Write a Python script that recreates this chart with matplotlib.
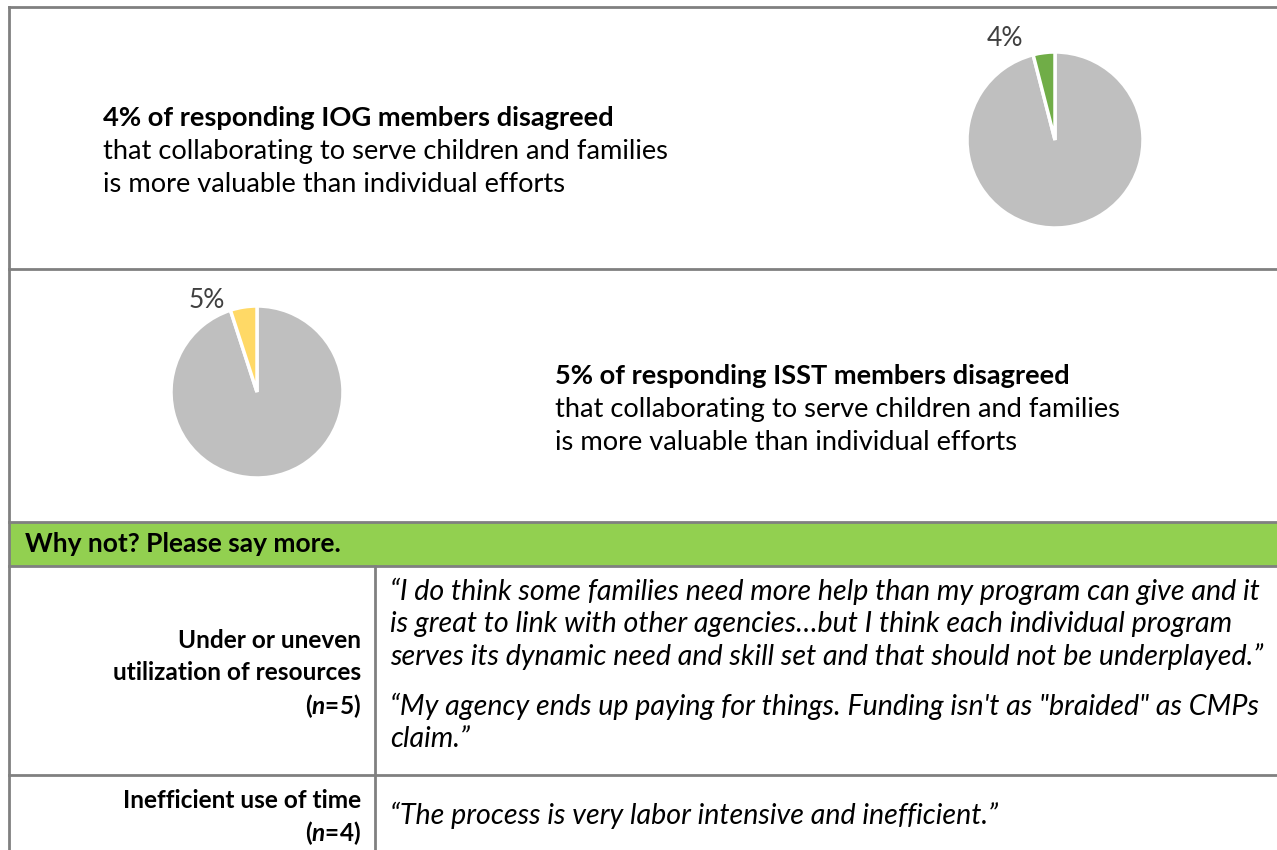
import matplotlib.pyplot as plt
from matplotlib.patches import Rectangle

# ==========================
# Data
# ==========================

iog_share = [96, 4]
isst_share = [95, 5]
iog_label = "4%"
isst_label = "5%"

iog_text = ["4% of responding IOG members disagreed",
            "that collaborating to serve children and families",
            "is more valuable than individual efforts"]
isst_text = ["5% of responding ISST members disagreed",
             "that collaborating to serve children and families",
             "is more valuable than individual efforts"]

header = "Why not? Please say more."

themes = [["Under or uneven", "utilization of resources", "($\\mathbfit{n}$=5)"],
          ["Inefficient use of time", "($\\mathbfit{n}$=4)"]]
quotes = [["\u201cI do think some families need more help than my program can give and it",
           "is great to link with other agencies\u2026but I think each individual program",
           "serves its dynamic need and skill set and that should not be underplayed.\u201d",
           None,
           "\u201cMy agency ends up paying for things. Funding isn't as \"braided\" as CMPs",
           "claim.\u201d"],
          ["\u201cThe process is very labor intensive and inefficient.\u201d"]]

# ==========================
# Layout
# ==========================

W, H = 1277, 850
plt.rcParams["font.family"] = ["Lato", "DejaVu Sans"]
plt.rcParams["mathtext.fontset"] = "custom"
plt.rcParams["mathtext.bfit"] = "Lato:bold:italic"

fig = plt.figure(figsize=(W / 100, H / 100), dpi=100)
ax = fig.add_axes([0, 0, 1, 1])
ax.set_xlim(0, W)
ax.set_ylim(H, 0)
ax.axis("off")

line_col = "#808080"
lw = 2.0
fs = 19.6
fs_theme = 17.6
fs_quote = 20.6

# green header band
ax.add_patch(Rectangle((9, 522), W - 9, 44, facecolor="#92D050", edgecolor="none"))

# table lines
ax.plot([9, 9], [7, H], color=line_col, lw=lw)
for y in [7, 269, 522, 566, 775]:
    ax.plot([9, W], [y, y], color=line_col, lw=lw)
ax.plot([375, 375], [566, H], color=line_col, lw=lw)

# top block text
y0 = 118
for i, s in enumerate(iog_text):
    ax.text(103, y0 + i * 33, s, fontsize=fs, va="center",
            fontweight="bold" if i == 0 else "normal")

y0 = 376
for i, s in enumerate(isst_text):
    ax.text(555, y0 + i * 33, s, fontsize=fs, va="center",
            fontweight="bold" if i == 0 else "normal")

ax.text(25, 544, header, fontsize=19, va="center", fontweight="bold")

# left column themes
theme_y = [[641, 673, 706], [800, 833]]
for lines, ys in zip(themes, theme_y):
    for s, y in zip(lines, ys):
        ax.text(361, y, s, fontsize=fs_theme, va="center", ha="right", fontweight="bold")

# right column quotes
starts = [591, 815]
for lines, y in zip(quotes, starts):
    yy = y
    for s in lines:
        if s is None:
            yy += 16
            continue
        ax.text(390, yy, s, fontsize=fs_quote, va="center", style="italic")
        yy += 33


# ==========================
# Pies
# ==========================

def draw_pie(cx, cy, r, values, color, label, lx, ly):
    pax = fig.add_axes([(cx - r) / W, 1 - (cy + r) / H, 2 * r / W, 2 * r / H])
    pax.pie(values, colors=["#BFBFBF", color], startangle=90, counterclock=False,
            wedgeprops=dict(edgecolor="white", linewidth=2.5))
    pax.set_xlim(-1, 1)
    pax.set_ylim(-1, 1)
    pax.set_aspect("equal")
    ax.text(lx, ly, label, fontsize=19, color="#404040", ha="center", va="center")


draw_pie(1055, 140, 88, iog_share, "#70AD47", iog_label, 1005, 38)
draw_pie(257, 392, 86, isst_share, "#FFD966", isst_label, 207, 300)

plt.savefig("out.png", dpi=100)
